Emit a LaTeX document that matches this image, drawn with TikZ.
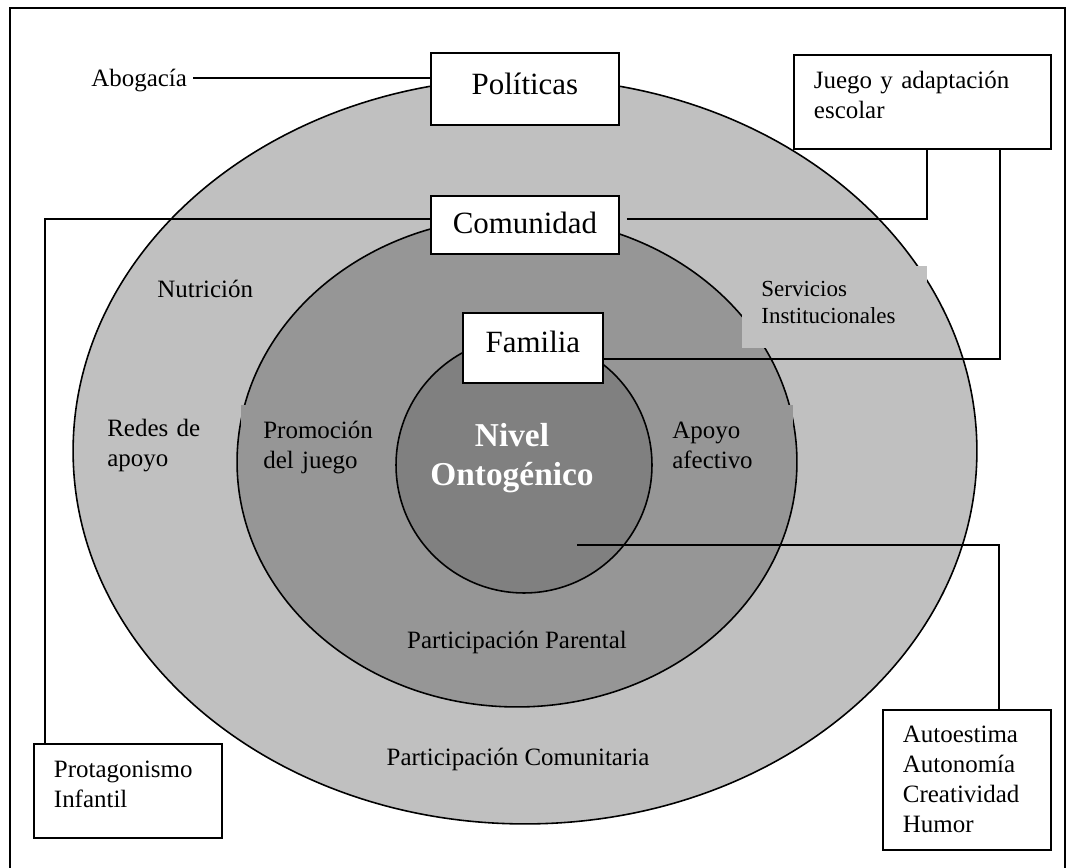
\documentclass[tikz,border=0pt]{standalone}
\usepackage{fontspec}
\setmainfont{Liberation Serif}
\usepackage{tikz}
\definecolor{ringout}{RGB}{192,192,192}
\definecolor{ringmid}{RGB}{150,150,150}
\definecolor{ringin}{RGB}{128,128,128}
\newcommand{\bodyfont}{\fontsize{14.2}{16.9}\selectfont}
\newcommand{\bigfont}{\fontsize{17.6}{20}\selectfont}
\newcommand{\servfont}{\fontsize{13.1}{15.4}\selectfont}
\newcommand{\nivfont}{\bfseries\fontsize{19}{22.2}\selectfont}
\tikzset{
  ring/.style={
    draw=black,
    line width=0.9pt
  },
  box/.style={
    draw=black,
    line width=1.1pt,
    fill=white,
    inner sep=0pt,
    anchor=north west
  },
  lbl/.style={
    inner sep=0pt,
    anchor=base west,
    font=\bodyfont
  },
  multi/.style={
    lbl,
    text width=4cm,
    align=left
  },
  patch/.style={
    inner ysep=0pt,
    anchor=north west,
    align=left,
    font=\bodyfont
  },
  link/.style={
    line width=1.1pt,
    color=black
  }
}

\begin{document}
\begin{tikzpicture}[x=0.02cm, y=-0.02cm]
    \useasboundingbox (0,0) rectangle (1069,868);
    % marco
    \draw[line width=1.1pt] (10,8) rectangle (1065,900);

    % niveles
    \filldraw[ring, fill=ringout] (525,451) ellipse [x radius=9.04cm, y radius=7.46cm];
    \filldraw[ring, fill=ringmid] (517,462) ellipse [x radius=5.6cm, y radius=4.9cm];
    \filldraw[ring, fill=ringin] (524,465) circle [radius=2.56cm];

    % textos de los anillos
    \node (abog) [lbl, inner xsep=0.12cm] at (85,87) {Abogacía};
    \node (nutr) [lbl] at (157,298) {Nutrición};
    \node (redes) [multi] at (107,437) {Redes de\\apoyo};
    \node (promo) [patch, fill=ringmid, inner xsep=0.44cm, text width=2.2cm,
      text height=0.66cm, text depth=0.84cm] at (241,405) {Promoción\\del juego};
    \node (apoyo) [patch, fill=ringmid, inner xsep=0.24cm, text width=2.18cm,
      text height=0.66cm, text depth=0.84cm] at (660,405) {Apoyo\\afectivo};
    \node (serv) [patch, fill=ringout, font=\servfont, inner xsep=0.38cm, text width=2.94cm,
      text height=0.6cm, text depth=1.04cm] at (742,266) {Servicios\\Institucionales};
    \node (nivel) [multi, anchor=base, align=center, font=\nivfont, text=white] at (512,446) {Nivel\\Ontogénico};
    \node (parpar) [lbl, anchor=base] at (517,648) {Participación Parental};
    \node (parcom) [lbl, anchor=base] at (518,765) {Participación Comunitaria};

    % cajas
    \node (pol) [box, font=\bigfont, align=center, text width=3.76cm,
      text height=0.84cm, text depth=0.6cm] at (430,52) {Políticas};
    \node (com) [box, font=\bigfont, align=center, text width=3.76cm,
      text height=0.76cm, text depth=0.4cm] at (430,195) {Comunidad};
    \node (fam) [box, font=\bigfont, align=center, text width=2.8cm,
      text height=0.8cm, text depth=0.6cm] at (462,312) {Familia};
    \node (juego) [box, font=\bodyfont, align=left, inner xsep=0.4cm, text width=4.34cm,
      text height=0.68cm, text depth=1.2cm] at (793,54) {Juego y adaptación\\escolar};
    \node (prot) [box, font=\bodyfont, align=left, inner xsep=0.4cm, text width=2.96cm,
      text height=0.68cm, text depth=1.2cm] at (33,743) {Protagonismo\\Infantil};
    \node (auto) [box, font=\bodyfont, align=left, inner xsep=0.4cm, text width=2.56cm,
      text height=0.66cm, text depth=2.14cm] at (882,709) {Autoestima\\Autonomía\\Creatividad\\Humor};

    % conectores
    \coordinate (nivpt) at (577,545);
    \draw[link] ([yshift=0.06cm]abog.east) -- ([yshift=0.06cm]abog.east -| pol.west);
    \draw[link] ([yshift=0.12cm]com.west) -| ([xshift=0.24cm]prot.north west);
    \draw[link] ([xshift=0.14cm, yshift=0.12cm]com.east) -| ([xshift=2.68cm]juego.south west);
    \draw[link] ([yshift=-0.22cm]fam.east) -| ([xshift=4.14cm]juego.south west);
    \draw[link] (nivpt) -| ([xshift=2.34cm]auto.north west);
  \end{tikzpicture}
\end{document}
